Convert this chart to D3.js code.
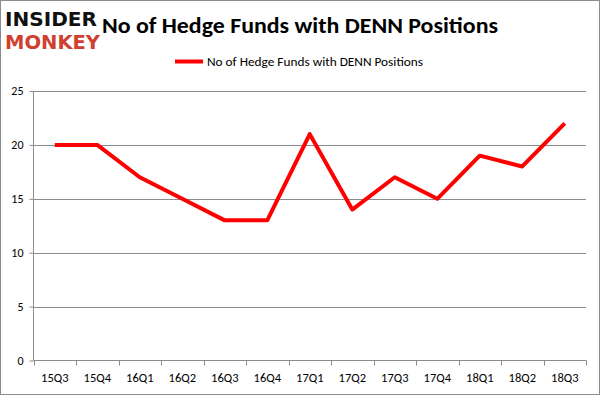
<!DOCTYPE html>
<html><head><meta charset="utf-8">
<script src="https://cdn.jsdelivr.net/npm/d3@7"></script>
<style>body{margin:0;background:#fff}svg{display:block}</style>
</head><body>
<script>
const categories = ["15Q3","15Q4","16Q1","16Q2","16Q3","16Q4","17Q1","17Q2","17Q3","17Q4","18Q1","18Q2","18Q3"];
const values = [20,20,17,15,13,13,21,14,17,15,19,18,22];
const yTicks = [0,5,10,15,20,25];
const seriesName = "No of Hedge Funds with DENN Positions";
const titleText = "No of Hedge Funds with DENN Positions";

(function(){
const W = 601, H = 396;
const svg = d3.select("body").append("svg").attr("width", W).attr("height", H);
svg.append("rect").attr("x",0.5).attr("y",0.5).attr("width",W-2).attr("height",H-2)
  .attr("fill","#fff").attr("stroke","#8c8c8c");

const pLeft = 33.5, pRight = 586, pTop = 91, pBottom = 360.5;
const x = d3.scalePoint().domain(categories).range([pLeft, pRight]).padding(0.5);
const xBand = d3.scaleBand().domain(categories).range([pLeft, pRight]);
const y = d3.scaleLinear().domain([0,25]).range([pBottom, pTop]);

const font = "Calibri, Carlito, 'Open Sans', 'Liberation Sans', sans-serif";

svg.append("g").selectAll("line").data(yTicks.filter(d=>d>0)).join("line")
  .attr("x1", pLeft).attr("x2", pRight)
  .attr("y1", d=>Math.round(y(d))+0.5).attr("y2", d=>Math.round(y(d))+0.5)
  .attr("stroke","#8c8c8c").attr("stroke-width",1);

const yAxis = d3.axisLeft(y).tickValues(yTicks).tickSize(4).tickPadding(6);
const gy = svg.append("g").attr("transform",`translate(${pLeft},0)`).call(yAxis);
gy.select(".domain").attr("stroke","#8c8c8c").attr("d",`M0,${pTop}V${pBottom}`);
gy.selectAll(".tick line").attr("stroke","#8c8c8c");
gy.selectAll(".tick text").attr("font-family",font).attr("font-size",12).attr("fill","#000");

const xAxis = d3.axisBottom(xBand).tickSize(0).tickPadding(13);
const gx = svg.append("g").attr("transform",`translate(0,${pBottom})`).call(xAxis);
gx.select(".domain").attr("stroke","#8c8c8c").attr("d",`M${pLeft},0H${pRight}`);
gx.selectAll(".tick text").attr("font-family",font).attr("font-size",12.5).attr("fill","#000");
const bounds = categories.map(c=>xBand(c)).concat([pRight]);
svg.append("g").selectAll("line").data(bounds).join("line")
  .attr("x1",d=>Math.round(d)+0.5).attr("x2",d=>Math.round(d)+0.5)
  .attr("y1", pBottom).attr("y2", pBottom+5)
  .attr("stroke","#8c8c8c");

const line = d3.line().x((d,i)=>x(categories[i])).y(d=>y(d));
svg.append("path").datum(values).attr("d",line)
  .attr("fill","none").attr("stroke","#ff0000").attr("stroke-width",4)
  .attr("stroke-linejoin","round").attr("stroke-linecap","butt");

svg.append("text").attr("x",102).attr("y",33).attr("font-family",font)
  .attr("font-size",22).attr("font-weight","bold").attr("fill","#000")
  .attr("textLength",396).attr("lengthAdjust","spacingAndGlyphs").text(titleText);

svg.append("line").attr("x1",175).attr("x2",203).attr("y1",61.5).attr("y2",61.5)
  .attr("stroke","#ff0000").attr("stroke-width",4);
svg.append("text").attr("x",207).attr("y",66).attr("font-family",font)
  .attr("font-size",12.5).attr("fill","#000")
  .attr("textLength",216).attr("lengthAdjust","spacingAndGlyphs").text(seriesName);

svg.append("text").attr("x",5).attr("y",26).attr("font-family","'DejaVu Sans', sans-serif")
  .attr("font-weight","bold").attr("font-size",19).attr("fill","#111")
  .attr("textLength",92).attr("lengthAdjust","spacingAndGlyphs").text("INSIDER");
svg.append("text").attr("x",5).attr("y",49).attr("font-family","'DejaVu Sans', sans-serif")
  .attr("font-weight","bold").attr("font-size",19).attr("fill","#d0402e")
  .attr("textLength",95).attr("lengthAdjust","spacingAndGlyphs").text("MONKEY");
})();
</script>
</body></html>
